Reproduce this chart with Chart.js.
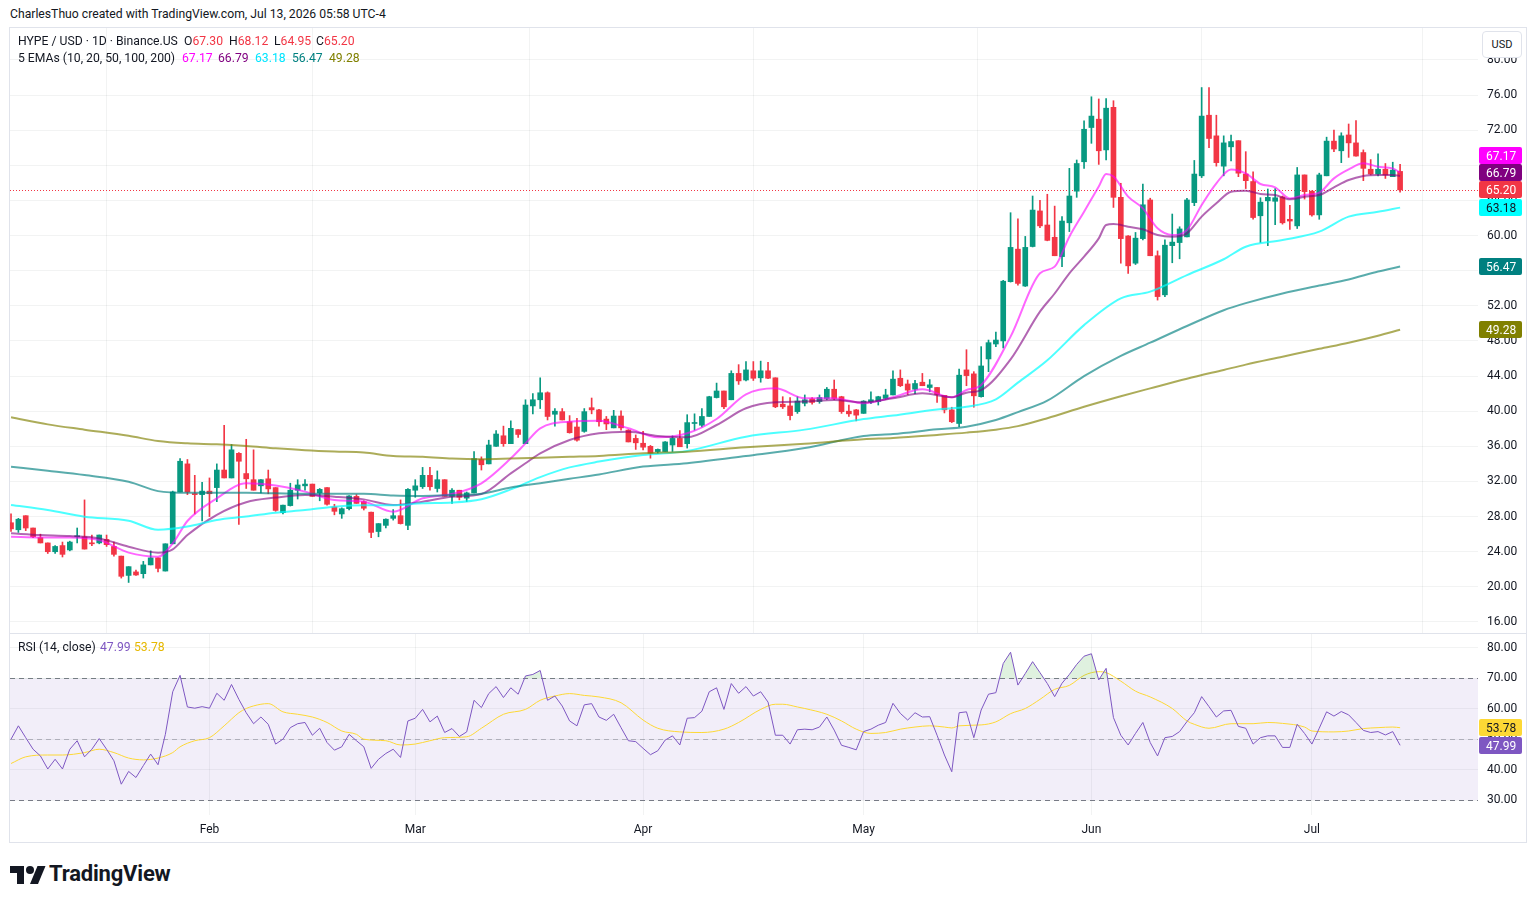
<!DOCTYPE html>
<html>
<head>
<meta charset="utf-8">
<script src="https://cdn.jsdelivr.net/npm/chart.js@4.4.1/dist/chart.umd.min.js"></script>
<style>
  body { margin: 0; background: #fff; font-family: Roboto, "Noto Sans", sans-serif; color: #131722; }
  #page { position: relative; width: 1536px; height: 903px; overflow: hidden; background: #fff; }
  .abs { position: absolute; white-space: nowrap; }
  #frame { left: 9px; top: 27px; width: 1518px; height: 816px; border: 1px solid #e0e3eb; box-sizing: border-box; }
  #sep { left: 10px; top: 633px; width: 1516px; height: 1px; background: #e0e3eb; }
  .legend { font-size: 12.2px; line-height: 17px; }
  .red { color: #F23645; }
  #usd { left: 1482px; top: 31px; width: 40px; height: 27px; border: 1px solid #e0e3eb; border-radius: 4px; background: #fff;
         box-sizing: border-box; font-size: 11px; line-height: 25px; text-align: center; }
</style>
</head>
<body>
<div id="page">
  <div class="abs" id="frame"></div>
  <div class="abs" style="left:10px;top:28px;width:1516px;height:605px"><canvas id="price" width="1516" height="605"></canvas></div>
  <div class="abs" style="left:10px;top:634px;width:1516px;height:208px"><canvas id="rsi" width="1516" height="208"></canvas></div>
  <div class="abs" id="sep"></div>

  <div class="abs legend" style="left:10px;top:6px">CharlesThuo created with TradingView.com, Jul 13, 2026 05:58 UTC-4</div>
  <div class="abs legend" style="left:18px;top:33px">HYPE / USD · 1D · Binance.US</div>
  <div class="abs legend" style="left:184px;top:33px">O<span class="red">67.30</span></div>
  <div class="abs legend" style="left:229px;top:33px">H<span class="red">68.12</span></div>
  <div class="abs legend" style="left:274px;top:33px">L<span class="red">64.95</span></div>
  <div class="abs legend" style="left:316px;top:33px">C<span class="red">65.20</span></div>
  <div class="abs legend" style="left:18px;top:50px">5 EMAs (10, 20, 50, 100, 200)</div>
  <div class="abs legend" style="left:182px;top:50px;color:#FF00FF">67.17</div>
  <div class="abs legend" style="left:218px;top:50px;color:#800080">66.79</div>
  <div class="abs legend" style="left:255px;top:50px;color:#00E5FF">63.18</div>
  <div class="abs legend" style="left:292px;top:50px;color:#008080">56.47</div>
  <div class="abs legend" style="left:329px;top:50px;color:#808000">49.28</div>
  <div class="abs legend" style="left:18px;top:639px">RSI (14, close)</div>
  <div class="abs legend" style="left:100px;top:639px;color:#7E57C2">47.99</div>
  <div class="abs legend" style="left:134px;top:639px;color:#E6B800">53.78</div>
  <div class="abs" id="usd">USD</div>

  <div class="abs" style="left:10px;top:861px;display:flex;align-items:center">
    <svg width="36" height="24" viewBox="0 0 36 24"><path d="M14 22H7V11H0V4h14z" fill="#131722"/><circle cx="20" cy="8" r="4" fill="#131722"/><path d="M28 22h-8l7.5-18h8z" fill="#131722"/></svg>
    <span style="font-size:22px;font-weight:bold;margin-left:3px;letter-spacing:-0.2px">TradingView</span>
  </div>
</div>

<script>
// daily candles, Jan 5 .. Jul 13 (index 0 = Jan 5)
const opens = [
  27.3, 26.5, 28.1, 26.7, 25.6, 25.0, 24.0, 24.7, 24.2, 25.7, 25.7, 25.0, 25.0, 25.4, 24.6, 23.5, 21.3, 21.7, 21.5, 22.5, 23.3, 21.8, 24.9, 30.8, 34.0, 30.6, 30.5,
  30.9, 31.3, 33.3, 32.4, 35.2, 32.9, 32.2, 31.5, 32.3, 31.3, 28.45, 29.25, 31.0, 31.5, 31.7, 30.7, 31.3, 29.1, 28.3, 28.9, 30.3, 29.7, 28.5, 26.3, 27.0, 27.8, 28.1, 27.0,
  31.0, 31.4, 32.7, 31.2, 32.2, 30.3, 31.0, 30.1, 30.7, 34.5, 34.0, 36.0, 37.2, 36.3, 37.9, 36.3, 40.6, 41.3, 42.1, 39.65, 39.95, 38.8, 38.2, 37.7, 40.4, 40.15, 39.1, 38.1, 39.45, 37.85, 36.9,
  36.35, 36.0, 35.4, 35.4, 36.15, 36.9, 36.3, 38.6, 38.4, 39.4, 41.55, 42.3, 41.3, 44.3, 43.55, 44.6, 43.8, 44.6, 43.8, 40.8, 40.6, 39.95, 40.9, 41.4, 41.1, 41.45, 42.5, 41.65, 40.0, 40.15,
  39.75, 41.05, 41.1, 41.45, 41.85, 43.75, 43.1, 42.5, 43.3, 42.7, 42.7, 41.8, 40.15, 38.6, 44.7, 44.25, 41.65, 45.95, 47.65, 48.0, 54.75, 58.45, 54.25, 58.75, 62.8, 61.2, 59.8, 57.6, 61.45, 65.05, 68.4,
  72.3, 73.25, 69.75, 74.6, 64.35, 59.95, 56.85, 59.65, 64.05, 57.7, 53.25, 58.85, 59.2, 59.85, 63.75, 66.8, 73.7, 71.35, 67.9, 70.1, 70.8, 67.0, 66.15, 62.25, 63.95, 63.9, 64.4, 61.85, 61.1, 66.9,
  65.05, 62.35, 66.8, 70.75, 69.65, 71.45, 70.55, 69.45, 67.55, 67.0, 67.55, 66.7, 67.3
];
const highs = [
  28.3, 27.8, 28.1, 26.7, 26.0, 25.0, 24.7, 25.1, 25.2, 26.7, 29.9, 25.9, 25.9, 25.9, 25.1, 23.5, 22.3, 21.9, 22.9, 24.1, 23.3, 24.9, 30.9, 34.6, 34.5, 32.7, 31.9,
  32.4, 34.0, 38.4, 36.2, 35.3, 36.8, 35.6, 32.2, 33.3, 31.3, 29.3, 31.8, 32.2, 32.2, 31.7, 31.2, 31.3, 29.4, 29.0, 30.4, 30.5, 29.8, 28.5, 27.2, 27.75, 28.8, 29.9, 31.2,
  32.2, 33.6, 33.6, 33.2, 32.2, 31.2, 31.0, 30.8, 35.4, 34.8, 36.7, 37.8, 38.3, 38.9, 37.9, 41.3, 42.0, 43.8, 42.2, 40.3, 40.3, 39.5, 39.2, 40.3, 41.5, 40.2, 39.4, 40.1, 40.05, 37.9, 37.3,
  37.7, 36.1, 35.7, 36.55, 37.2, 37.8, 39.6, 39.7, 40.3, 41.7, 43.2, 42.3, 44.6, 45.3, 45.65, 45.65, 45.7, 45.55, 43.8, 41.65, 41.55, 41.65, 41.85, 41.55, 41.85, 42.7, 43.55, 41.7, 40.7, 40.2,
  41.2, 42.2, 41.7, 42.5, 44.6, 44.7, 43.55, 43.5, 44.3, 43.6, 42.7, 41.8, 40.45, 44.8, 47.0, 44.5, 47.35, 48.1, 49.0, 54.9, 62.6, 61.9, 59.9, 64.5, 64.0, 64.7, 63.35, 62.15, 67.65, 68.6, 73.05,
  75.8, 75.55, 75.6, 75.35, 65.95, 60.0, 60.35, 65.85, 64.25, 58.25, 59.5, 62.45, 61.0, 64.25, 68.55, 76.85, 76.85, 73.7, 71.35, 71.45, 70.8, 69.55, 67.25, 64.3, 65.3, 65.35, 64.5, 63.45, 67.75, 66.9,
  65.1, 67.1, 71.2, 72.0, 71.7, 72.7, 73.1, 69.75, 68.65, 69.3, 68.2, 68.35, 68.12
];
const lows = [
  26.3, 26.2, 26.4, 25.6, 25.0, 23.8, 23.8, 23.4, 24.1, 25.0, 24.3, 24.7, 24.9, 24.6, 23.5, 21.0, 20.5, 21.3, 21.0, 22.5, 21.7, 21.8, 24.9, 30.8, 30.5, 28.3, 27.5,
  28.0, 29.7, 32.4, 32.4, 27.1, 31.2, 31.0, 30.7, 30.6, 28.6, 28.3, 29.2, 30.0, 31.0, 30.3, 29.8, 29.3, 28.2, 27.8, 28.75, 29.5, 28.75, 25.6, 25.7, 26.7, 27.6, 27.15, 26.5,
  30.2, 31.2, 31.0, 30.8, 30.3, 29.5, 29.9, 29.7, 30.7, 33.3, 34.0, 36.0, 36.0, 36.3, 37.0, 36.3, 39.7, 40.3, 39.0, 38.3, 39.0, 37.5, 36.6, 37.6, 39.7, 38.3, 37.9, 38.1, 37.85, 36.5, 35.65,
  35.6, 34.65, 35.2, 35.4, 35.4, 35.95, 35.8, 37.85, 38.2, 39.4, 41.5, 40.3, 41.3, 43.05, 43.45, 43.5, 43.3, 43.7, 40.4, 40.3, 39.0, 39.75, 40.6, 40.8, 40.9, 41.3, 41.3, 39.75, 39.4, 38.9,
  39.75, 40.85, 40.7, 41.35, 41.85, 42.8, 41.9, 42.0, 42.9, 42.2, 41.0, 39.8, 38.7, 38.25, 42.9, 40.45, 41.6, 44.5, 47.35, 47.2, 54.7, 54.35, 54.2, 58.7, 60.9, 59.4, 57.7, 56.45, 60.45, 64.35, 67.65,
  70.5, 68.1, 68.6, 63.2, 56.85, 55.7, 56.7, 59.5, 57.7, 52.65, 53.05, 56.9, 57.35, 59.85, 63.4, 66.6, 70.0, 67.9, 66.8, 68.5, 66.7, 65.35, 61.85, 59.2, 58.85, 61.25, 61.3, 60.7, 60.8, 64.15,
  62.2, 61.85, 66.8, 69.55, 68.3, 68.9, 69.05, 66.25, 66.9, 66.8, 66.5, 66.7, 64.95
];
const closes = [
  26.6, 27.7, 26.7, 25.7, 25.0, 24.0, 24.6, 23.7, 25.1, 25.8, 24.3, 24.9, 25.9, 24.8, 23.7, 21.2, 22.3, 21.35, 22.5, 23.3, 22.1, 24.9, 30.8, 34.3, 30.8, 30.5, 30.9,
  30.6, 33.3, 32.4, 35.6, 34.3, 32.3, 31.0, 32.2, 31.15, 28.7, 29.3, 31.0, 31.6, 31.7, 30.3, 31.1, 29.4, 28.6, 28.9, 30.35, 29.5, 28.95, 26.2, 27.2, 27.7, 28.1, 27.2, 31.1,
  31.5, 32.7, 31.4, 32.2, 30.3, 31.0, 30.2, 30.7, 34.6, 33.9, 36.15, 37.4, 36.3, 38.05, 37.35, 40.7, 41.3, 42.1, 39.4, 40.0, 39.0, 37.55, 36.7, 39.95, 40.15, 38.8, 38.55, 39.45, 38.1, 36.5, 36.4,
  35.9, 35.2, 35.65, 36.5, 36.9, 35.95, 38.7, 38.7, 39.4, 41.65, 42.3, 40.5, 44.3, 43.45, 44.7, 43.75, 44.6, 43.75, 40.5, 40.5, 39.5, 41.15, 41.3, 41.0, 41.55, 42.5, 41.45, 39.95, 39.7, 39.55,
  41.15, 41.3, 41.65, 41.85, 43.65, 42.9, 42.4, 43.15, 42.9, 43.0, 41.9, 40.15, 38.8, 44.1, 44.05, 41.75, 45.15, 47.8, 48.1, 54.8, 58.65, 54.55, 58.65, 62.9, 61.1, 59.45, 57.7, 61.65, 64.5, 68.2, 72.1,
  73.6, 69.65, 74.5, 64.35, 59.65, 56.55, 59.7, 63.5, 57.7, 53.05, 58.9, 59.25, 60.75, 64.05, 67.0, 73.6, 71.05, 68.3, 70.55, 70.7, 67.1, 66.25, 62.05, 63.8, 64.35, 64.3, 61.45, 61.65, 66.9, 65.0,
  62.35, 66.9, 70.75, 69.85, 71.35, 70.55, 69.05, 67.65, 67.0, 67.55, 66.9, 67.45, 65.2
];

// EMA readings (candle index -> value)
const fastIdx = [0, 4, 8, 12, 16, 20, 22, 24, 28, 32, 36, 40, 44, 48, 52, 56, 60, 64, 68, 70, 72, 76, 80, 84, 88, 92, 96, 100, 104, 108,
  112, 116, 120, 124, 128, 130, 132, 136, 140, 142, 144, 146, 148, 149, 150, 152, 154, 156, 158, 160, 162, 164, 166, 168, 170, 172, 174, 176, 178, 180,
  182, 184, 186, 188, 189];
const ema10 = [25.71, 25.63, 25.63, 25.33, 23.9, 23.43, 24.95, 27.5, 30.08, 31.8, 31.53, 30.84, 29.89, 29.7, 28.56, 30.08, 30.57, 31.79, 34.63, 36.34,
  38.05, 38.81, 38.92, 38.05, 37.03, 37.48, 39.11, 41.92, 42.6, 41.47, 41.47, 40.9, 41.58, 42.49, 41.58, 42.41, 42.98, 48.49, 55.7, 56.46,
  59.87, 62.72, 65.57, 67.01, 66.71, 64.43, 63.1, 60.82, 60.06, 60.63, 63.48, 65.95, 67.53, 67.08, 65.87, 65.49, 64.23, 64.61, 64.88, 66.51,
  67.53, 68.22, 67.84, 67.65, 67.17];
const ema20 = [26.09, 25.9, 25.79, 25.52, 24.57, 23.89, 24.27, 25.9, 28.2, 29.63, 30.16, 30.46, 30.27, 29.96, 29.32, 29.7, 30.27, 30.57, 32.92, 34.07,
  35.2, 36.72, 37.48, 37.67, 37.18, 37.03, 38.43, 40.33, 41.01, 41.09, 41.28, 41.01, 41.47, 42.03, 41.58, 42.11, 42.41, 45.91, 51.33, 53.4,
  55.7, 57.6, 59.68, 61.2, 61.3, 61.01, 60.71, 60.06, 59.87, 60.25, 62.15, 63.67, 64.99, 65.11, 64.73, 64.61, 64.12, 64.42, 64.61, 65.49,
  66.32, 66.78, 66.89, 66.89, 66.79];
const slowIdx = [0, 5, 10, 16, 20, 24, 28, 32, 36, 40, 44, 48, 52, 56, 60, 64, 68, 72, 76, 80, 86, 92, 100, 108, 116, 120, 126, 130, 134, 137,
  141, 146, 151, 155, 160, 165, 168, 173, 178, 182, 186, 189];
const ema50 = [29.32, 28.75, 27.99, 27.53, 26.5, 26.86, 27.62, 28.0, 28.45, 28.75, 29.13, 29.3, 29.3, 29.51, 29.59, 29.97, 31.1, 32.5, 33.6, 34.26,
  35.02, 35.47, 37.1, 37.9, 39.1, 39.5, 40.2, 40.5, 41.35, 43.25, 45.8, 49.8, 52.85, 53.61, 55.5, 57.3, 58.73, 59.49, 60.44, 62.15, 62.7, 63.18];
const ema100 = [33.68, 33.22, 32.73, 31.97, 30.9, 30.7, 30.7, 30.7, 30.65, 30.6, 30.6, 30.6, 30.4, 30.35, 30.45, 30.6, 31.3, 31.8, 32.3, 32.8,
  33.69, 34.07, 34.9, 35.8, 37.18, 37.4, 37.94, 38.24, 39.0, 39.9, 41.2, 44.0, 46.3, 47.8, 49.7, 51.5, 52.3, 53.4, 54.3, 55.0, 55.9, 56.47];
const ema200 = [39.3, 38.5, 37.9, 37.2, 36.6, 36.34, 36.23, 36.04, 35.77, 35.55, 35.4, 35.3, 34.9, 34.82, 34.6, 34.52, 34.6, 34.7, 34.8, 34.9,
  35.2, 35.39, 35.9, 36.3, 36.8, 36.95, 37.3, 37.56, 37.9, 38.3, 39.2, 40.5, 41.7, 42.6, 43.7, 44.7, 45.3, 46.2, 47.1, 47.8, 48.6, 49.28];

// RSI (14) per candle, and its moving average readings
const rsi = [
  50.0, 54.4, 50.5, 46.7, 44.5, 40.2, 43.4, 40.2, 46.7, 49.5, 44.2, 46.7, 50.2, 46.7, 42.9, 35.2, 39.4, 37.4, 41.3, 45.1,
  41.6, 51.6, 65.6, 71.0, 60.6, 60.2, 60.7, 60.2, 65.1, 62.8, 68.0, 63.1, 58.7, 55.1, 57.3, 54.9, 48.4, 50.0, 53.8, 55.1,
  55.5, 51.3, 53.6, 48.9, 46.4, 47.5, 51.6, 49.5, 47.5, 40.4, 43.4, 45.3, 46.7, 44.0, 56.0, 56.9, 59.8, 55.7, 57.6, 52.2,
  53.5, 50.9, 52.4, 62.8, 60.4, 65.0, 67.3, 63.7, 66.9, 64.8, 70.8, 71.3, 72.6, 62.8, 64.2, 60.9, 56.0, 54.4, 61.3, 61.7,
  57.3, 56.2, 58.2, 53.8, 49.5, 49.2, 47.0, 44.9, 46.2, 49.7, 51.1, 48.1, 56.9, 57.1, 59.2, 65.6, 66.9, 59.8, 68.3, 65.1,
  67.3, 64.2, 65.6, 62.2, 51.3, 51.3, 48.4, 53.1, 53.3, 53.1, 54.0, 57.3, 53.0, 48.0, 47.3, 46.5, 52.5, 53.3, 54.6, 55.5,
  61.8, 58.5, 56.3, 58.7, 57.3, 57.4, 51.3, 44.8, 39.3, 58.7, 59.0, 50.5, 59.6, 64.8, 65.3, 74.9, 78.6, 67.8, 71.6, 75.5,
  71.9, 68.3, 64.0, 68.4, 71.3, 74.6, 77.3, 78.1, 69.5, 73.3, 57.1, 51.3, 48.1, 51.9, 55.5, 48.9, 44.5, 50.5, 50.9, 52.5,
  55.8, 58.7, 64.0, 60.7, 57.3, 59.3, 59.5, 54.2, 53.6, 48.4, 50.5, 51.1, 51.1, 47.3, 47.3, 54.9, 51.9, 48.4, 53.6, 59.0,
  57.6, 59.1, 58.0, 55.5, 52.9, 52.2, 52.5, 51.4, 52.5, 47.99
];
const rsiMaIdx = [0, 2, 5, 7, 10, 12, 14, 16, 18, 20, 22, 23, 25, 27, 29, 31, 32, 34, 35, 37, 39, 41, 43, 45, 47, 48, 51, 53, 55, 57,
  59, 62, 64, 67, 70, 72, 74, 76, 78, 80, 83, 86, 88, 91, 94, 97, 99, 102, 104, 105, 107, 108, 111, 113, 115, 117, 119, 121, 123, 125,
  127, 128, 129, 132, 134, 136, 138, 140, 142, 144, 146, 148, 149, 151, 153, 155, 158, 160, 161, 163, 166, 169, 171, 173, 176, 177, 180, 182, 184, 186,
  188, 189];
const rsiMa = [42.0, 44.2, 44.8, 44.8, 45.6, 46.7, 45.6, 43.8, 43.2, 43.8, 45.6, 47.5, 49.5, 50.5, 54.4, 58.7, 60.1, 61.5, 61.7, 59.0,
  58.2, 57.3, 55.5, 52.7, 51.6, 50.0, 49.5, 48.1, 48.4, 49.5, 50.5, 50.8, 53.6, 58.2, 59.8, 62.8, 64.2, 65.0, 64.4, 63.9,
  62.0, 56.3, 53.6, 52.4, 52.2, 53.3, 55.5, 59.8, 61.5, 61.5, 60.6, 60.1, 58.2, 56.0, 53.3, 51.9, 52.2, 53.3, 54.0, 54.4,
  54.0, 53.7, 54.4, 54.7, 55.7, 58.4, 60.1, 63.1, 66.4, 67.7, 71.0, 72.2, 71.9, 69.1, 65.8, 63.9, 60.1, 56.0, 54.9, 53.6,
  55.1, 55.1, 55.5, 55.2, 54.0, 52.7, 52.4, 52.7, 53.5, 53.8, 54.0, 53.78];

// axis ticks
const monthStarts = [27, 55, 86, 116, 147, 177];
const monthLabels = ['Feb', 'Mar', 'Apr', 'May', 'Jun', 'Jul'];
const priceTicks = [16, 20, 24, 28, 32, 36, 40, 44, 48, 52, 56, 60, 64, 68, 72, 76, 80];
const rsiTicks = [30, 40, 50, 60, 70, 80];

const upColor = '#089981', downColor = '#F23645';
const gridColor = 'rgba(42,46,57,0.06)';
const textColor = '#131722';
Chart.defaults.font.family = 'Roboto, "Noto Sans", sans-serif';
Chart.defaults.font.size = 12;

const idx = closes.map((c, i) => i);
const candleColors = closes.map((c, i) => c >= opens[i] ? upColor : downColor);
const xMin = -0.14, xMax = 199.6;

function fixSize(w, h) {
  return function(scale) {
    if (w != null) scale.width = w;
    if (h != null) scale.height = h;
    scale.paddingTop = 0; scale.paddingBottom = 0;
    scale.paddingLeft = 0; scale.paddingRight = 0;
  };
}

function lineFrom(xs, ys, color, width) {
  return {
    type: 'line',
    data: xs.map((x, k) => ({ x: x, y: ys[k] })),
    borderColor: color,
    borderWidth: width,
    pointRadius: 0,
    cubicInterpolationMode: 'monotone',
    order: 0
  };
}

function xScale(showLabels) {
  return {
    type: 'linear', min: xMin, max: xMax, offset: false,
    afterBuildTicks: s => { s.ticks = monthStarts.map(v => ({ value: v })); },
    ticks: {
      display: showLabels, color: textColor, padding: 8, maxRotation: 0, autoSkip: false,
      callback: v => monthLabels[monthStarts.indexOf(v)]
    },
    grid: { color: gridColor, drawTicks: false },
    border: { display: false },
    afterFit: fixSize(null, showLabels ? 27 : 0)
  };
}

function yScale(min, max, ticks) {
  return {
    type: 'linear', position: 'right', min: min, max: max,
    afterBuildTicks: s => { s.ticks = ticks.map(v => ({ value: v })); },
    ticks: { color: textColor, padding: 9, callback: v => v.toFixed(2) },
    grid: { color: gridColor, drawTicks: false },
    border: { display: false },
    afterFit: fixSize(48, null)
  };
}

// coloured last-value tags on the right scale, pushed up when they overlap
function drawTags(chart, items) {
  const { ctx, chartArea, scales: { y } } = chart;
  const h = 17;
  const tags = items.map(t => Object.assign({ py: y.getPixelForValue(t.value) }, t)).sort((a, b) => b.py - a.py);
  for (let k = 1; k < tags.length; k++) {
    if (tags[k].py > tags[k - 1].py - h) tags[k].py = tags[k - 1].py - h;
  }
  ctx.save();
  ctx.font = '12px Roboto, "Noto Sans", sans-serif';
  ctx.textBaseline = 'middle';
  tags.forEach(t => {
    const top = Math.round(t.py - h / 2);
    ctx.fillStyle = t.bg;
    ctx.beginPath();
    ctx.roundRect(chartArea.right + 1, top, 43, h, 2);
    ctx.fill();
    ctx.fillStyle = t.fg;
    ctx.fillText(t.value.toFixed(2), chartArea.right + 8, top + h / 2 + 1);
  });
  ctx.restore();
}

const lastClose = closes[closes.length - 1];
const last = arr => arr[arr.length - 1];

const pricePlugin = {
  id: 'pricePlugin',
  beforeDatasetsDraw(chart) {
    const { ctx, chartArea, scales: { y } } = chart;
    const py = Math.round(y.getPixelForValue(lastClose)) + 0.5;
    ctx.save();
    ctx.strokeStyle = downColor;
    ctx.lineWidth = 1;
    ctx.setLineDash([1, 2]);
    ctx.beginPath();
    ctx.moveTo(chartArea.left, py);
    ctx.lineTo(chartArea.right + 2, py);
    ctx.stroke();
    ctx.restore();
  },
  afterDraw(chart) {
    drawTags(chart, [
      { value: last(ema10), bg: '#FF00FF', fg: '#fff' },
      { value: last(ema20), bg: '#800080', fg: '#fff' },
      { value: lastClose, bg: downColor, fg: '#fff' },
      { value: last(ema50), bg: '#00FFFF', fg: textColor },
      { value: last(ema100), bg: '#008080', fg: '#fff' },
      { value: last(ema200), bg: '#808000', fg: '#fff' }
    ]);
  }
};

new Chart(document.getElementById('price'), {
  data: {
    datasets: [
      { type: 'bar', data: idx.map(i => ({ x: i, y: [lows[i], highs[i]] })), backgroundColor: candleColors,
        barThickness: 1, grouped: false, order: 2 },
      { type: 'bar', data: idx.map(i => ({ x: i, y: [opens[i], closes[i]] })), backgroundColor: candleColors,
        barThickness: 5, minBarLength: 1, grouped: false, order: 1 },
      lineFrom(slowIdx, ema200, 'rgba(128,128,0,0.65)', 2),
      lineFrom(slowIdx, ema100, 'rgba(0,128,128,0.65)', 2),
      lineFrom(slowIdx, ema50, 'rgba(0,255,255,0.7)', 2),
      lineFrom(fastIdx, ema20, 'rgba(128,0,128,0.6)', 2),
      lineFrom(fastIdx, ema10, 'rgba(255,0,255,0.6)', 2)
    ]
  },
  options: {
    responsive: false, animation: false, events: [],
    layout: { padding: 0 },
    plugins: { legend: { display: false }, tooltip: { enabled: false } },
    scales: { x: xScale(false), y: yScale(14.745, 83.63, priceTicks) }
  },
  plugins: [pricePlugin]
});

const rsiPlugin = {
  id: 'rsiPlugin',
  beforeDatasetsDraw(chart) {
    const { ctx, chartArea, scales: { y } } = chart;
    const y70 = y.getPixelForValue(70), y30 = y.getPixelForValue(30), y50 = y.getPixelForValue(50);
    ctx.save();
    ctx.fillStyle = 'rgba(126,87,194,0.1)';
    ctx.fillRect(chartArea.left, y70, chartArea.right - chartArea.left, y30 - y70);
    ctx.lineWidth = 1;
    ctx.setLineDash([5, 4]);
    [[y70, '#787B86'], [y30, '#787B86'], [y50, 'rgba(120,123,134,0.5)']].forEach(([py, c]) => {
      ctx.strokeStyle = c;
      ctx.beginPath();
      ctx.moveTo(chartArea.left, Math.round(py) + 0.5);
      ctx.lineTo(chartArea.right, Math.round(py) + 0.5);
      ctx.stroke();
    });
    ctx.restore();
  },
  afterDraw(chart) {
    drawTags(chart, [
      { value: last(rsiMa), bg: '#FDD835', fg: textColor },
      { value: last(rsi), bg: '#7E57C2', fg: '#fff' }
    ]);
  }
};

new Chart(document.getElementById('rsi'), {
  data: {
    datasets: [
      { type: 'line', data: idx.map(i => ({ x: i, y: rsi[i] })), borderColor: '#7E57C2', borderWidth: 1,
        pointRadius: 0, order: 0,
        fill: { target: { value: 70 }, above: 'rgba(76,175,80,0.18)', below: 'rgba(0,0,0,0)' } },
      Object.assign(lineFrom(rsiMaIdx, rsiMa, '#FDD835', 1), { order: 1 })
    ]
  },
  options: {
    responsive: false, animation: false, events: [],
    layout: { padding: 0 },
    plugins: { legend: { display: false }, tooltip: { enabled: false } },
    scales: { x: xScale(true), y: yScale(25.07, 84.6, rsiTicks) }
  },
  plugins: [rsiPlugin]
});
</script>
</body>
</html>
